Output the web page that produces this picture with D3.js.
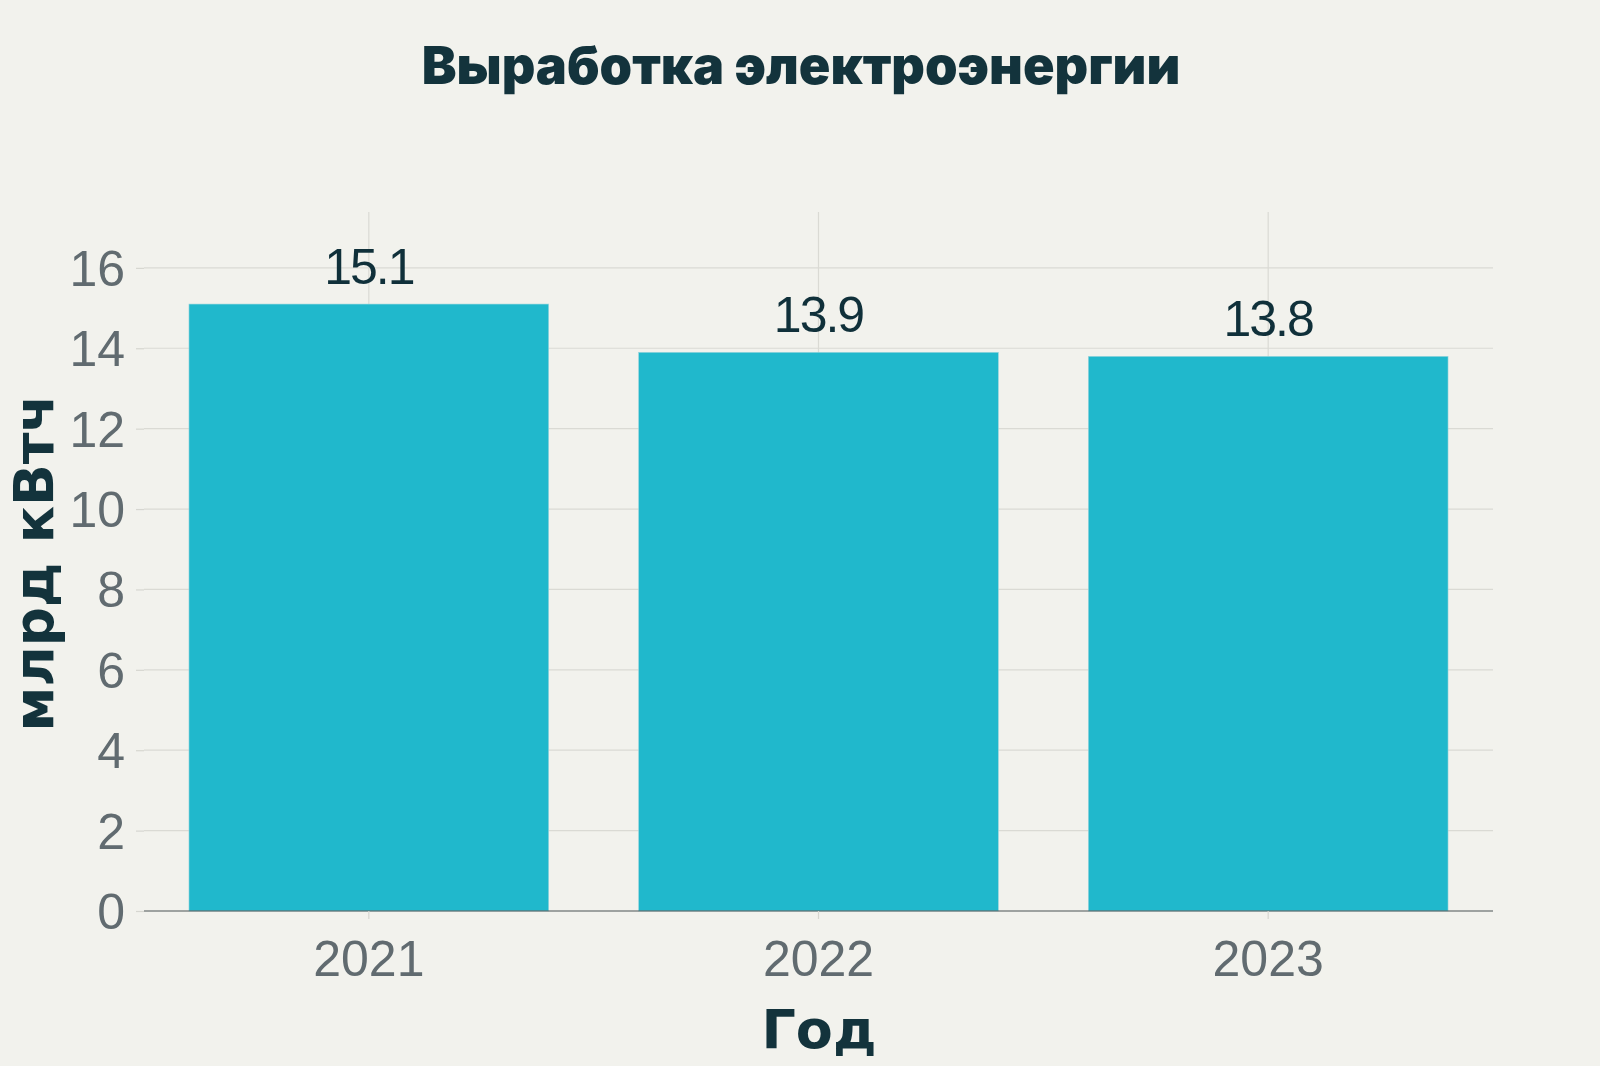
<!DOCTYPE html>
<html><head><meta charset="utf-8">
<script src="https://cdn.jsdelivr.net/npm/d3@7"></script>
<style>
html,body{margin:0;padding:0;background:#f2f2ed;}
svg{display:block;}
</style></head>
<body>
<svg id="chart" width="1600" height="1066"></svg>
<script>
const categories = ["2021", "2022", "2023"];
const values = [15.1, 13.9, 13.8];
const valueLabels = ["15.1", "13.9", "13.8"];
const yTicks = [0, 2, 4, 6, 8, 10, 12, 14, 16];
const title = "Выработка электроэнергии";
const xTitle = "Год";
const yTitle = "млрд кВтч";

const W = 1600, H = 1066;
const m = {left: 144, right: 1493, top: 212, bottom: 911};
const svg = d3.select("#chart");
svg.append("rect").attr("width", W).attr("height", H).attr("fill", "#f2f2ed");

const x = d3.scaleBand().domain(categories).range([m.left, m.right]).paddingInner(0.2).paddingOuter(0.1);
const y = d3.scaleLinear().domain([0, 17.39]).range([m.bottom, m.top]);

const grid = svg.append("g");
grid.selectAll("line.h").data(yTicks.filter(d => d > 0)).join("line")
  .attr("x1", m.left).attr("x2", m.right)
  .attr("y1", d => y(d)).attr("y2", d => y(d))
  .attr("stroke", "#dadad4").attr("stroke-width", 1.2);
grid.selectAll("line.v").data(categories).join("line")
  .attr("x1", d => x(d) + x.bandwidth()/2).attr("x2", d => x(d) + x.bandwidth()/2)
  .attr("y1", m.top).attr("y2", m.bottom)
  .attr("stroke", "#dadad4").attr("stroke-width", 1.2);

svg.append("g").selectAll("rect").data(values).join("rect")
  .attr("x", (d, i) => x(categories[i]))
  .attr("width", x.bandwidth())
  .attr("y", d => y(d))
  .attr("height", d => y(0) - y(d))
  .attr("fill", "#20b8cc")
  .attr("stroke", "#9fd6dd").attr("stroke-width", 0.6);

svg.append("line").attr("x1", m.left).attr("x2", m.right)
  .attr("y1", y(0)).attr("y2", y(0)).attr("stroke", "#4a5255").attr("stroke-width", 1.2);

const yAxis = svg.append("g").attr("transform", `translate(${m.left},0)`)
  .call(d3.axisLeft(y).tickValues(yTicks).tickSize(8).tickPadding(11).tickFormat(d3.format("d")));
yAxis.select(".domain").remove();
yAxis.selectAll(".tick line").attr("stroke", "#d6d6d0").attr("stroke-width", 1.2);
yAxis.selectAll(".tick text").attr("fill", "#616b70")
  .style("font-family", "'Liberation Sans', Arial, sans-serif").style("font-size", "50px").attr("dy", "0.35em");

const xAxis = svg.append("g").attr("transform", `translate(0,${m.bottom})`)
  .call(d3.axisBottom(x).tickSize(8).tickPadding(21));
xAxis.select(".domain").remove();
xAxis.selectAll(".tick line").attr("stroke", "#d6d6d0").attr("stroke-width", 1.2);
xAxis.selectAll(".tick text").attr("fill", "#616b70")
  .style("font-family", "'Liberation Sans', Arial, sans-serif").style("font-size", "50px").attr("dy", "0.71em");

svg.append("g").selectAll("text").data(values).join("text")
  .attr("x", (d, i) => x(categories[i]) + x.bandwidth()/2)
  .attr("y", d => y(d) - 20)
  .attr("text-anchor", "middle")
  .attr("fill", "#10303a")
  .style("font-family", "'Liberation Sans', Arial, sans-serif").style("font-size", "50px")
  .style("letter-spacing", "-2px")
  .text((d, i) => valueLabels[i]);

function fitWidth(sel, base, target) {
  const w = sel.node().getComputedTextLength();
  sel.style("font-size", (base * target / w) + "px");
}

const t = svg.append("text").attr("x", 801).attr("y", 84).attr("text-anchor", "middle")
  .attr("fill", "#13333c")
  .style("font-family", "Inter, 'DejaVu Sans', sans-serif").style("font-weight", "900").style("font-size", "40px")
  .text(title);
fitWidth(t, 40, 759);

const xt = svg.append("text").attr("x", 819).attr("y", 1048).attr("text-anchor", "middle")
  .attr("fill", "#13333c")
  .style("font-family", "'DejaVu Sans', sans-serif").style("font-weight", "bold").style("font-size", "57px")
  .text(xTitle);
fitWidth(xt, 57, 115);

const yt = svg.append("text").attr("transform", "translate(53,563) rotate(-90)").attr("text-anchor", "middle")
  .attr("fill", "#13333c")
  .style("font-family", "'DejaVu Sans', sans-serif").style("font-weight", "bold").style("font-size", "55px")
  .text(yTitle);
fitWidth(yt, 55, 337);
</script>
</body></html>
